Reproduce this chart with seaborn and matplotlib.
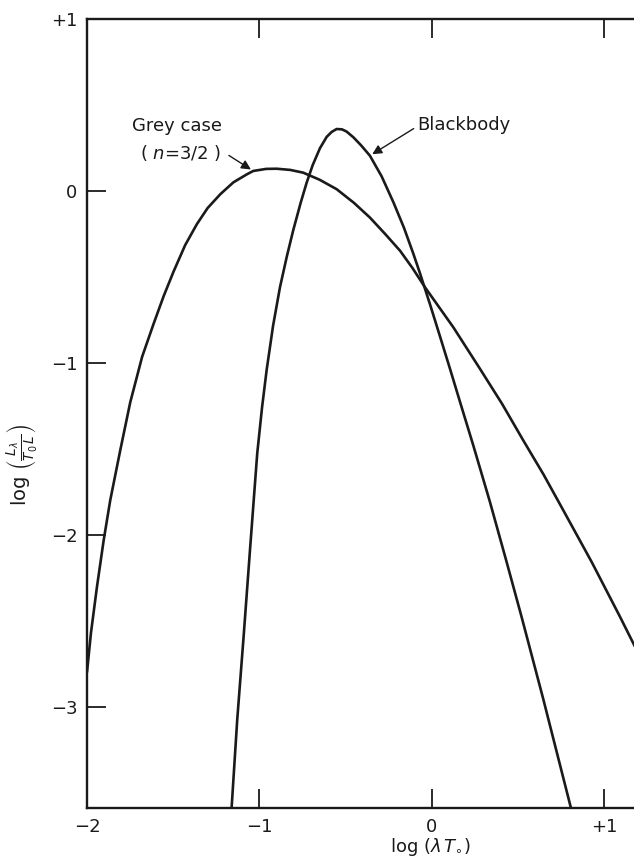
import numpy as np
import seaborn as sns
from matplotlib import pyplot as plt

# values: log(lambda T0) vs log(L_lambda / T0 L)
grey_x = [-2.000, -1.977, -1.942, -1.903, -1.865, -1.807, -1.749, -1.680, -1.613,
          -1.555, -1.497, -1.430, -1.362, -1.300, -1.226, -1.150, -1.071, -1.035,
          -0.960, -0.899, -0.820, -0.745, -0.650, -0.551, -0.450, -0.358, -0.270,
          -0.183, -0.110, -0.038, 0.126, 0.281, 0.410, 0.532, 0.650, 0.764, 0.930,
          1.093, 1.180]
grey_y = [-2.80, -2.571, -2.302, -2.031, -1.799, -1.509, -1.230, -0.965, -0.772,
          -0.612, -0.468, -0.315, -0.193, -0.100, -0.019, 0.050, 0.097, 0.116,
          0.128, 0.129, 0.122, 0.106, 0.065, 0.010, -0.070, -0.155, -0.250,
          -0.348, -0.450, -0.561, -0.793, -1.035, -1.240, -1.451, -1.650, -1.857, -2.160,
          -2.476, -2.65]

bb_x = [-1.165, -1.160, -1.128, -1.091, -1.054, -1.012, -0.984, -0.957, -0.920,
        -0.880, -0.840, -0.803, -0.760, -0.725, -0.690, -0.648, -0.609, -0.580,
        -0.551, -0.520, -0.493, -0.454, -0.410, -0.358, -0.290, -0.222, -0.160,
        -0.106, -0.067, -0.009, 0.050, 0.107, 0.175, 0.242, 0.339, 0.436, 0.523,
        0.648, 0.809, 0.822]
bb_y = [-3.65, -3.579, -3.076, -2.593, -2.090, -1.528, -1.260, -1.040, -0.785,
        -0.561, -0.381, -0.229, -0.070, 0.048, 0.150, 0.248, 0.314, 0.343,
        0.360, 0.358, 0.345, 0.312, 0.266, 0.205, 0.085, -0.065, -0.215,
        -0.365, -0.480, -0.660, -0.850, -1.035, -1.260, -1.480, -1.810, -2.160, -2.480,
        -2.955, -3.59, -3.65]

xticks = [-2, -1, 0, 1]
xtick_labels = ["\u22122", "\u22121", "0", "+1"]
yticks = [-3, -2, -1, 0, 1]
ytick_labels = ["\u22123", "\u22122", "\u22121", "0", "+1"]

sns.set_theme(style="ticks")
plt.rcParams["font.family"] = ["DejaVu Sans"]
plt.rcParams["mathtext.fontset"] = "dejavusans"
plt.rcParams["text.color"] = "k"
plt.rcParams["axes.labelcolor"] = "k"

fig = plt.figure(figsize=(6.34, 8.67), dpi=100)
ax = fig.add_axes([87 / 634, 59 / 867, 547 / 634, 789 / 867])

sns.lineplot(x=grey_x, y=grey_y, ax=ax, color="k", lw=1.9, estimator=None, sort=False)
sns.lineplot(x=bb_x, y=bb_y, ax=ax, color="k", lw=1.9, estimator=None, sort=False)

ax.set_xlim(-2, 1.175)
ax.set_ylim(-3.59, 1.0)

ax.set_xticks(xticks)
ax.set_xticklabels(xtick_labels)
ax.set_yticks(yticks)
ax.set_yticklabels(ytick_labels)
ax.tick_params(axis="both", direction="in", length=14, width=1.3, labelsize=13,
               color="k", labelcolor="k", pad=7)
ax.tick_params(axis="x", top=True)
ax.tick_params(axis="y", right=False)

for side in ["left", "bottom", "top"]:
    ax.spines[side].set_visible(True)
    ax.spines[side].set_linewidth(1.7)
    ax.spines[side].set_color("k")
ax.spines["right"].set_visible(False)

ax.set_xlabel(r"$\mathrm{log}\ (\lambda\,T_{\circ})$", fontsize=13)
ax.xaxis.set_label_coords((430 - 87) / 547, -0.035)
ax.set_ylabel(r"$\mathrm{log}\ \left(\frac{L_\lambda}{T_{0}\,L}\right)$", fontsize=14)
ax.yaxis.set_label_coords(-0.088, 0.435)

# labels with arrows
ax.text(-1.478, 0.377, "Grey case", fontsize=13, ha="center", va="center")
ax.text(-1.46, 0.22, "( $n$=3/2 )", fontsize=13, ha="center", va="center")
ax.annotate("", xy=(-1.035, 0.116), xytext=(-1.19, 0.215),
            arrowprops=dict(arrowstyle="-|>", lw=1.0, color="k", mutation_scale=14))
ax.text(-0.085, 0.383, "Blackbody", fontsize=13, ha="left", va="center")
ax.annotate("", xy=(-0.358, 0.205), xytext=(-0.09, 0.371),
            arrowprops=dict(arrowstyle="-|>", lw=1.0, color="k", mutation_scale=14))

fig.savefig("out.png", dpi=100)
